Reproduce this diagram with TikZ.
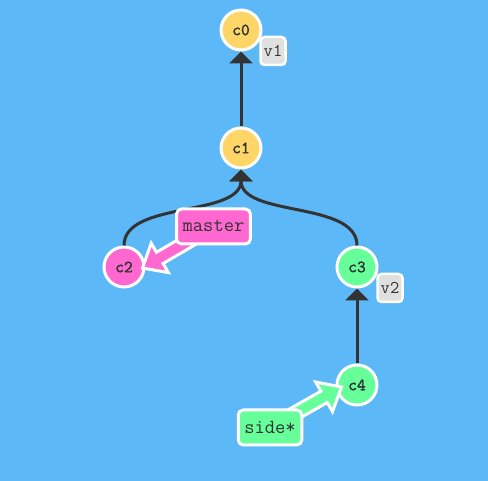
\documentclass[tikz,border=0pt]{standalone}
\usepackage{fontspec}
\usepackage{tikz}
\usetikzlibrary{arrows.meta,calc}
\newfontfamily\commitfont{Latin Modern Mono}[FakeBold=2]

\definecolor{bgBlue}{RGB}{93,184,247}
\definecolor{commitYellow}{RGB}{254,214,104}
\definecolor{branchPink}{RGB}{255,104,208}
\definecolor{branchGreen}{RGB}{102,255,153}
\definecolor{tagGray}{RGB}{224,224,224}
\definecolor{edgeDark}{RGB}{51,51,51}

\tikzset{
    commit/.style={circle, draw=white, line width=3pt, minimum size=40pt, inner sep=0pt, text=edgeDark, font=\commitfont\fontsize{17}{17}\selectfont},
    tagbox/.style={rectangle, rounded corners=4pt, draw=white, line width=2.5pt, fill=tagGray, minimum width=25pt, minimum height=28pt, inner sep=1pt, text=edgeDark, font=\ttfamily\fontsize{18}{18}\selectfont},
    branchbox/.style={rectangle, rounded corners=5pt, draw=white, line width=3pt, minimum height=35pt, inner xsep=6pt, text=edgeDark, font=\ttfamily\fontsize{20}{20}\selectfont},
    parent/.style={draw=edgeDark, line width=3pt, -{Triangle[length=12pt,width=23pt]}},
    brancharrow/.style={draw=white, line width=3pt, line join=miter},
}

\newcommand{\drawBranchArrow}[3]{
    \coordinate (head) at ($(#2)!20pt!(#1)$);
    \filldraw[brancharrow, fill=#3] ($(#1)!6.5pt!90:(#2)$) -- ($(head)!6.5pt!90:(#2)$) -- ($(head)!17pt!90:(#2)$) -- (#2)
        -- ($(head)!17pt!-90:(#2)$) -- ($(head)!6.5pt!-90:(#2)$) -- ($(#1)!6.5pt!-90:(#2)$) -- cycle;
}

\begin{document}
\begin{tikzpicture}[x=1pt, y=1pt]
    \fill[bgBlue] (0,0) rectangle (488,481);
    \useasboundingbox (0,0) rectangle (488,481);

    % commits
    \node[commit, fill=commitYellow] (c0) at (241,451) {c0};
    \node[commit, fill=commitYellow] (c1) at (241,333) {c1};
    \node[commit, fill=branchPink] (c2) at (124,214) {c2};
    \node[commit, fill=branchGreen] (c3) at (357,214) {c3};
    \node[commit, fill=branchGreen] (c4) at (357,96) {c4};

    % parents
    \draw[parent] (c1) -- (c0);
    \draw[parent] (c4) -- (c3);
    \draw[parent] (c2.north) .. controls +(0,45) and +(0,-48) .. (c1.south);
    \draw[parent] (c3.north) .. controls +(0,45) and +(0,-48) .. (c1.south);

    % tags
    \node[tagbox] (v1) at (273,430) {v1};
    \node[tagbox] (v2) at (390,193) {v2};

    % branches
    \coordinate (masterPos) at (213.5,254.5);
    \coordinate (sidePos) at (270,53.5);
    \coordinate (masterTip) at ($(c2.east)+(-3,-1)$);
    \coordinate (sideTip) at ($(c4.west)+(6,-2)$);
    \drawBranchArrow{masterPos}{masterTip}{branchPink}
    \drawBranchArrow{sidePos}{sideTip}{branchGreen}
    \node[branchbox, fill=branchPink] (master) at (masterPos) {master};
    \node[branchbox, fill=branchGreen] (side) at (sidePos) {side*};
\end{tikzpicture}
\end{document}
